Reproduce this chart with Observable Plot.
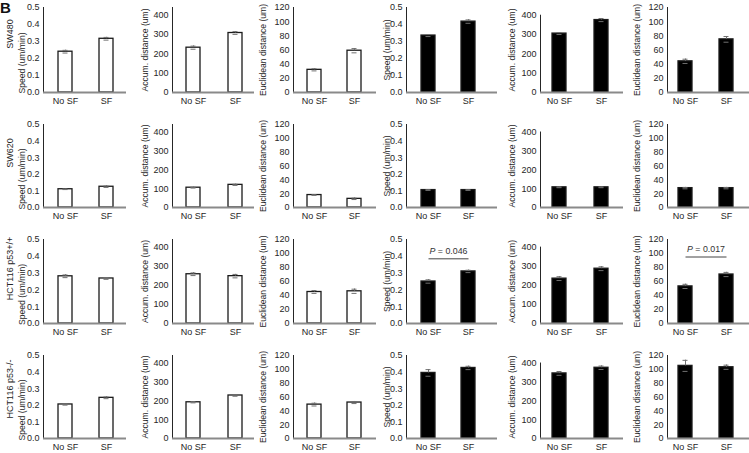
<!DOCTYPE html>
<html><head><meta charset="utf-8">
<script src="https://cdn.jsdelivr.net/npm/d3@7"></script>
<script src="https://cdn.jsdelivr.net/npm/@observablehq/plot@0.6"></script>
<style>
body{margin:0;background:#fff;}
#fig{position:relative;width:749px;height:453px;overflow:hidden;font-family:"Liberation Sans",Arial,sans-serif;background:#fff;}
#fig svg{position:absolute;}
#panelB{position:absolute;left:0px;top:0px;font-weight:bold;font-size:15px;line-height:15px;color:#111;}
</style></head><body>
<div id="fig"><div id="panelB">B</div></div>
<script>
// ---------- data ----------
const groups = ["No SF", "SF"];
const cellLines = ["SW480", "SW620", "HCT116 p53+/+", "HCT116 p53-/-"];
const metricNames = ["Speed (um/min)", "Accum. distance (um)", "Euclidean distance (um)"];
const speedTicks = [0, 0.1, 0.2, 0.3, 0.4, 0.5];
const accumTicks = [0, 100, 200, 300, 400];
const euclidTicks = [0, 20, 40, 60, 80, 100, 120];
// rows: SW480, SW620, HCT116 p53+/+, HCT116 p53-/- ; pairs: [No SF, SF]
const speedOpen = [[0.240, 0.316], [0.110, 0.125], [0.281, 0.268], [0.205, 0.245]];
const speedOpenErr = [[0.008, 0.008], [0.002, 0.004], [0.008, 0.005], [0.004, 0.005]];
const accumOpen = [[232, 308], [105, 120], [258, 248], [192, 228]];
const accumOpenErr = [[8, 7], [2, 3], [7, 9], [3, 4]];
const euclidOpen = [[32, 59], [18, 12.5], [45, 46], [49, 52]];
const euclidOpenErr = [[1.5, 3], [0.5, 1], [2, 3], [2, 1.5]];
const speedFilled = [[0.335, 0.417], [0.105, 0.105], [0.250, 0.310], [0.395, 0.425]];
const speedFilledErr = [[0.006, 0.010], [0.002, 0.002], [0.010, 0.007], [0.020, 0.010]];
const accumFilled = [[305, 375], [107, 107], [235, 287], [345, 375]];
const accumFilledErr = [[5, 8], [2, 2], [10, 10], [10, 9]];
const euclidFilled = [[44, 75], [28, 28], [53, 70], [105, 103]];
const euclidFilledErr = [[3, 4], [1, 1], [3, 3], [8, 3]];
const pValues = [
  {row: 2, col: 3, label: "P = 0.046", y: 0.385},
  {row: 2, col: 5, label: "P = 0.017", y: 95}
];

// ---------- layout ----------
const layoutCols = [
  {axis: 43, c1: 64.5, c2: 106, right: 126, titleDx: -21},
  {axis: 172, c1: 193, c2: 235, right: 254, titleDx: -27},
  {axis: 293, c1: 314, c2: 354, right: 376, titleDx: -30},
  {axis: 406, c1: 428, c2: 468, right: 497, titleDx: -19},
  {axis: 540, c1: 558.5, c2: 601, right: 623, titleDx: -28},
  {axis: 667, c1: 685, c2: 726, right: 749, titleDx: -30}
];
const layoutRows = [
  {top: 7, base: 92, labelDy: -16},
  {top: 124, base: 207, labelDy: -13},
  {top: 239, base: 323, labelDy: -13},
  {top: 355, base: 438, labelDy: -8}
];
const fmt1 = d3.format(".1f");
const colCfg = [
  {values: speedOpen, errs: speedOpenErr, ticks: speedTicks, max: 0.5, fmt: fmt1, fill: "white", title: 0},
  {values: accumOpen, errs: accumOpenErr, ticks: accumTicks, max: 440, fmt: d => d, fill: "white", title: 1},
  {values: euclidOpen, errs: euclidOpenErr, ticks: euclidTicks, max: 120, fmt: d => d, fill: "white", title: 2},
  {values: speedFilled, errs: speedFilledErr, ticks: speedTicks, max: 0.5, fmt: fmt1, fill: "black", title: 0},
  {values: accumFilled, errs: accumFilledErr, ticks: accumTicks, max: 400, partial: 400 / 440, fmt: d => d, fill: "black", title: 1},
  {values: euclidFilled, errs: euclidFilledErr, ticks: euclidTicks, max: 120, fmt: d => d, fill: "black", title: 2}
];

const fig = document.getElementById("fig");
const svgns = "http://www.w3.org/2000/svg";

function panel(r, c) {
  const L = layoutCols[c], R = layoutRows[r], M = colCfg[c];
  const x0 = L.axis - 44, y0 = R.top - 7;
  const W = L.right - x0 + 1, H = R.base - y0 + 15;
  const frameTop = M.partial ? R.base - (R.base - R.top) * M.partial : R.top;
  const data = groups.map((g, i) => ({group: g, value: M.values[r][i], err: M.errs[r][i]}));
  const s = L.c2 - L.c1, bw = 14, p = 1 - bw / s;
  const ann = pValues.filter(a => a.row === r && a.col === c);
  const midShift = (R.base - R.top) / 2 - (R.base - frameTop) / 2;
  const marks = [
    Plot.ruleX(data, {x: "group", y1: d => d.value - d.err, y2: d => d.value + d.err, stroke: "#707070", strokeWidth: 1}),
    Plot.barY(data, {x: "group", y: "value", fill: M.fill, stroke: "#1a1a1a", strokeWidth: 1.3}),
    Plot.ruleX(data, {x: "group", y1: "value", y2: d => d.value + d.err, stroke: "#707070", strokeWidth: 1}),
    Plot.tickY(data, {x: "group", y: d => d.value + d.err, insetLeft: 4.5, insetRight: 4.5, stroke: "#707070", strokeWidth: 1}),
    Plot.tickY(data, {x: "group", y: d => d.value - d.err, insetLeft: 4.5, insetRight: 4.5, stroke: "#707070", strokeWidth: 1}),
    Plot.ruleY([0], {stroke: "#8a8a8a", strokeWidth: 2}),
    Plot.text([metricNames[M.title]], {frameAnchor: "left", textAnchor: "middle", rotate: -90, dx: L.titleDx, dy: (c === 0 ? 13 : 0) - midShift, text: d => d, fontSize: 8.6, fill: "#262626"})
  ];
  if (c === 0) {
    marks.push(Plot.text([cellLines[r]], {frameAnchor: "left", textAnchor: "middle", rotate: -90, dx: -33, dy: R.labelDy, text: d => d, fontSize: 9, fill: "#262626"}));
  }
  if (ann.length) {
    marks.push(Plot.link(ann, {x1: () => "No SF", x2: () => "SF", y1: "y", y2: "y", stroke: "#444", strokeWidth: 1}));
    marks.push(Plot.text(ann, {x: () => "No SF", y: "y", dx: s / 2, dy: -8, textAnchor: "middle", text: "label", fontSize: 8.8, fill: "#333"}));
  }
  const svg = Plot.plot({
    width: W, height: H,
    marginLeft: L.axis - x0, marginRight: x0 + W - L.right,
    marginTop: frameTop - y0, marginBottom: y0 + H - R.base,
    style: {background: "transparent", fontSize: "9px", fontFamily: "Liberation Sans, Arial, sans-serif", color: "#262626", overflow: "visible"},
    x: {type: "band", domain: groups, range: [L.c1 - s / 2 - x0, L.c2 + s / 2 - x0], paddingInner: p, paddingOuter: p / 2, tickSize: 0, tickPadding: 5, label: null},
    y: {domain: [0, M.max], ticks: M.ticks, tickFormat: M.fmt, tickSize: 0, tickPadding: 4, line: true, label: null},
    marks
  });
  svg.style.left = x0 + "px";
  svg.style.top = y0 + "px";
  svg.querySelectorAll("text").forEach(t => {
    if (t.textContent.startsWith("P = ")) {
      const rest = t.textContent.slice(1);
      t.textContent = "";
      const ts = document.createElementNS(svgns, "tspan");
      ts.setAttribute("font-style", "italic");
      ts.textContent = "P";
      t.appendChild(ts);
      t.appendChild(document.createTextNode(rest));
    }
  });
  fig.appendChild(svg);
}
for (let r = 0; r < 4; r++) for (let c = 0; c < 6; c++) panel(r, c);
</script>
</body></html>
